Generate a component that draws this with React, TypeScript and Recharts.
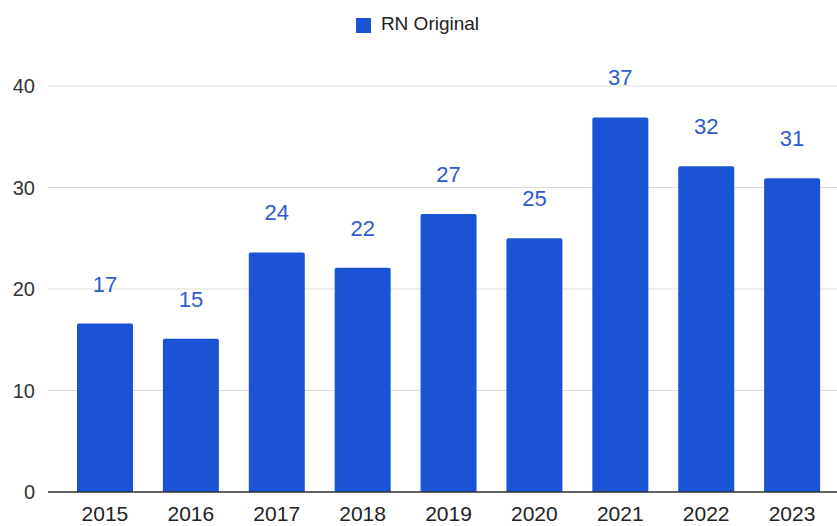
import { BarChart, Bar, XAxis, YAxis, CartesianGrid, Legend, LabelList } from 'recharts';

const years = ['2015', '2016', '2017', '2018', '2019', '2020', '2021', '2022', '2023'];
const rnOriginal = [16.6, 15.1, 23.6, 22.1, 27.4, 25.0, 36.9, 32.1, 30.9];
const yTicks = [0, 10, 20, 30, 40];

const chartData = years.map((year, i) => ({ year, rn: rnOriginal[i] }));

const FONT = '"Liberation Sans", Arial, sans-serif';
const BLUE = '#1a53d4';

export default function App() {
  return (
    <div style={{ position: 'absolute', left: 0, top: 0, background: '#fff', fontFamily: FONT }}>
      <BarChart
        width={837}
        height={526}
        data={chartData}
        margin={{ top: 64, right: 0, left: 0, bottom: 4 }}
        barCategoryGap={15}
      >
        <CartesianGrid vertical={false} stroke="#dcdcdc" />
        <XAxis
          dataKey="year"
          height={30}
          padding={{ left: 14, right: 2 }}
          axisLine={{ stroke: '#333', strokeWidth: 1.5 }}
          tickLine={false}
          tickSize={0}
          tickMargin={14}
          tick={{ fill: '#222', fontSize: 21, fontFamily: FONT }}
          interval={0}
        />
        <YAxis
          width={48}
          domain={[0, 40]}
          ticks={yTicks}
          axisLine={false}
          tickLine={false}
          tickSize={0}
          tickMargin={13}
          tick={{ fill: '#333', fontSize: 20, fontFamily: FONT }}
        />
        <Legend
          verticalAlign="top"
          align="center"
          iconType="square"
          iconSize={15}
          wrapperStyle={{ top: 13, left: 4, width: 837, fontFamily: FONT }}
          formatter={(value) => (
            <span style={{ color: '#222', fontSize: 19, paddingLeft: 6 }}>{value}</span>
          )}
        />
        <Bar dataKey="rn" name="RN Original" fill={BLUE} radius={[2, 2, 0, 0]} isAnimationActive={false}>
          <LabelList
            dataKey="rn"
            position="top"
            offset={32}
            formatter={(v: any) => Math.round(Number(v))}
            style={{ fill: '#2f5bd0', fontSize: 22, fontFamily: FONT }}
          />
        </Bar>
      </BarChart>
    </div>
  );
}
